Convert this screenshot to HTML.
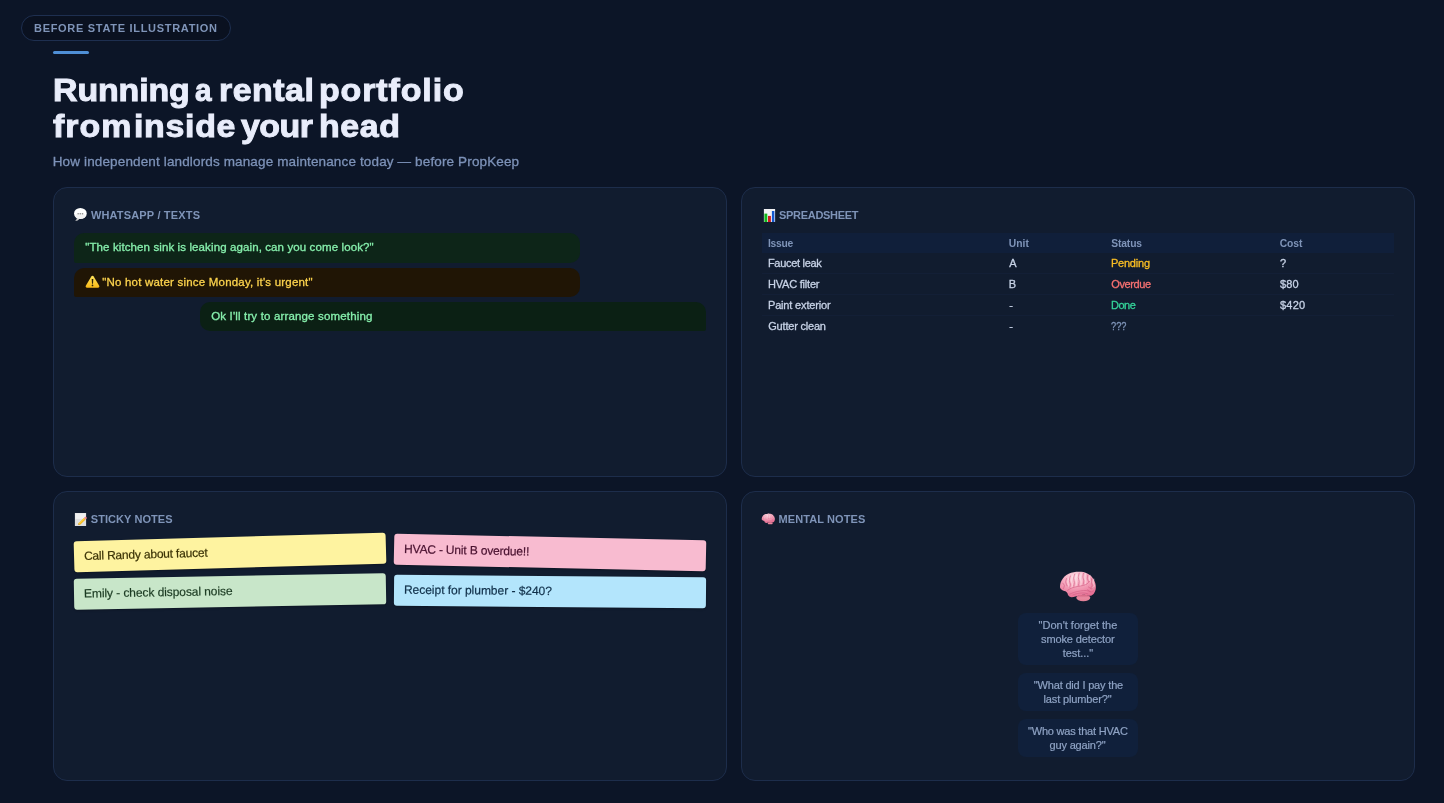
<!DOCTYPE html>
<html lang="en">
<head>
<meta charset="utf-8">
<title>Before state illustration</title>
<style>
*{box-sizing:border-box;margin:0;padding:0}
html,body{width:1444px;height:803px;overflow:hidden}
body{background:#0c1527;font-family:"Liberation Sans",sans-serif;color:#e9edfb;position:relative}
span.t,div.t{position:absolute;white-space:pre;display:block}
.td,.m12,.sub{-webkit-text-stroke:.3px currentColor}
.mn,.note{-webkit-text-stroke:.2px currentColor}
.b11{font-weight:bold;font-size:11px;line-height:11px;color:#7f94b8}
.th{font-weight:bold;font-size:10.3px;line-height:10.3px;color:#7f94b8}
.td{font-size:11px;line-height:11px;color:#c7d2e6}
.mn{font-size:11px;line-height:11px;color:#8fa3c4}
.m12{font-size:11.5px;line-height:11.5px}
.pill{position:absolute;left:21px;top:15px;width:210px;height:26px;border:1px solid #1e2f50;border-radius:13px;background:#0a1120}
.bar{position:absolute;left:53px;top:51px;width:36px;height:3px;border-radius:2px;background:#4f8fd6}
h1{position:absolute;left:0;top:0;font-size:32px;line-height:36px;font-weight:bold;color:#e9edfb;white-space:nowrap;-webkit-text-stroke:1px #e9edfb}
h1 span{position:absolute;display:block;transform:scaleX(1.06);transform-origin:0 0}
.sub{font-size:13.5px;line-height:13.5px;color:#7d92b8}
.card{position:absolute;width:674px;height:290px;border:1px solid #1d2d4b;border-radius:14px;background:#111c2f}
.ico{position:absolute;display:block;overflow:visible}
.msg{position:absolute;width:506px}
.thead{position:absolute;left:20px;top:45px;width:632px;height:19.6px;background:#101f3a}
.sep{position:absolute;left:20px;width:632px;height:1px;background:#14203a;opacity:.75}
.note{position:absolute;width:312px;height:31px;border-radius:3px;font-size:12px;line-height:31px;padding-left:10px;white-space:pre;color:#1f2937;box-shadow:0 1px 2px rgba(0,0,0,.25)}
.mnote{position:absolute;left:276px;width:120px;border-radius:8px;background:#10203b}
</style>
</head>
<body>
<div class="pill"></div>
<span class="t b11" style="left:34px;top:23.1px;letter-spacing:0.7px">BEFORE STATE ILLUSTRATION</span>
<div class="bar"></div>
<h1>
<span style="left:52.7px;top:71.6px;letter-spacing:-.11px">Running</span>
<span style="left:194.6px;top:71.6px;transform:scaleX(.93)">a</span>
<span style="left:219.2px;top:71.6px;letter-spacing:.48px">rental</span>
<span style="left:318.9px;top:71.6px;letter-spacing:.85px">portfolio</span>
<span style="left:53px;top:107.6px;letter-spacing:.97px">from</span>
<span style="left:134.4px;top:107.6px;letter-spacing:.64px">inside</span>
<span style="left:241.1px;top:107.6px;letter-spacing:-.48px">your</span>
<span style="left:318.6px;top:107.6px;letter-spacing:.57px">head</span>
</h1>
<span class="t sub" style="left:52.7px;top:154.7px;letter-spacing:0.14px">How independent landlords manage maintenance today — before PropKeep</span>
<div class="card" style="left:53px;top:187px">
<svg class="ico" style="left:19.15px;top:19px" width="14" height="15" viewBox="0 0 14 15"><path d="M1.900 14c1.100-.6 1.800-1.600 1.900-2.900l2.600.7C5.500 13.200 3.900 14 1.900 14z" fill="#cfcfcf"/><ellipse cx="7.400" cy="6.500" rx="6.350" ry="5.500" fill="#fff"/><ellipse cx="7.400" cy="8.800" rx="5.200" ry="2.900" fill="#e9e9e9" opacity=".6"/><circle cx="5.150" cy="6.700" r=".78" fill="#8c8c8c"/><circle cx="7.300" cy="6.700" r=".78" fill="#8c8c8c"/><circle cx="9.550" cy="6.700" r=".78" fill="#8c8c8c"/></svg>
<span class="t b11" style="left:36.9px;top:22px;letter-spacing:0.17px">WHATSAPP / TEXTS</span>
<div class="msg" style="left:20px;top:45px;height:30px;background:#0d2518;border-radius:10px 10px 10px 2px"></div>
<span class="t m12" style="left:31.26px;top:54.2px;letter-spacing:0.11px;color:#86efac">"The kitchen sink is leaking again, can you come look?"</span>
<div class="msg" style="left:20px;top:80px;height:29px;background:#201505;border-radius:10px 10px 10px 2px"><svg class="ico" style="left:10.6px;top:7.300px" width="15" height="13" viewBox="0 0 15 13"><defs><linearGradient id="wg" x1="0" y1="0" x2="0" y2="1"><stop offset="0" stop-color="#ffe45c"/><stop offset="1" stop-color="#f9b917"/></linearGradient></defs><path d="M7.500.7c.5 0 .9.300 1.200.8l5.500 9.300c.5.900-.1 1.900-1.200 1.900H2c-1.100 0-1.700-1-1.200-1.900L6.300 1.500c.3-.5.700-.8 1.200-.8z" fill="url(#wg)"/><path d="M6.700 4h1.600l-.3 4.700H7z" fill="#2b2208"/><circle cx="7.500" cy="10.400" r=".85" fill="#2b2208"/></svg></div>
<span class="t m12" style="left:48.26px;top:88.9px;letter-spacing:0.2px;color:#fcd34d">"No hot water since Monday, it's urgent"</span>
<div class="msg" style="left:146px;top:114px;height:29px;background:#0b2014;border-radius:10px 10px 2px 10px"></div>
<span class="t m12" style="left:157.16px;top:122.9px;letter-spacing:0.16px;color:#86efac">Ok I'll try to arrange something</span>
</div>
<div class="card" style="left:741px;top:187px">
<svg class="ico" style="left:21px;top:20px" width="12" height="14" viewBox="0 0 12 14"><rect x=".9" y="1" width="11.2" height="13" fill="#f1f1f4"/><rect x="1.4" y="5.6" width="2.9" height="8.4" fill="#12b81c"/><rect x="5" y="7.9" width="2.9" height="6.1" fill="#cf1a1f"/><rect x="8.9" y="3" width="2.5" height="11" fill="#1458d0"/></svg>
<span class="t b11" style="left:36.94px;top:22px;letter-spacing:-0.29px">SPREADSHEET</span>
<div class="thead"></div>
<span class="t th" style="left:25.93px;top:51px;letter-spacing:-0.24px">Issue</span>
<span class="t th" style="left:266.81px;top:51px;letter-spacing:0.01px">Unit</span>
<span class="t th" style="left:369.17px;top:51px;letter-spacing:-0.12px">Status</span>
<span class="t th" style="left:537.76px;top:51px;letter-spacing:-0.07px">Cost</span>
<div class="sep" style="top:85px"></div>
<div class="sep" style="top:106px"></div>
<div class="sep" style="top:127px"></div>
<span class="t td" style="left:25.96px;top:69.9px;letter-spacing:-0.3px">Faucet leak</span>
<span class="t td" style="left:267.3px;top:69.9px">A</span>
<span class="t td" style="left:368.96px;top:69.9px;letter-spacing:-0.22px;color:#fbbf24">Pending</span>
<span class="t td" style="left:537.94px;top:69.9px">?</span>
<span class="t td" style="left:25.96px;top:90.8px;letter-spacing:-0.2px">HVAC filter</span>
<span class="t td" style="left:266.86px;top:90.8px">B</span>
<span class="t td" style="left:369.28px;top:90.8px;letter-spacing:-0.41px;color:#f87171">Overdue</span>
<span class="t td" style="left:537.97px;top:90.8px;letter-spacing:0.18px">$80</span>
<span class="t td" style="left:25.96px;top:111.8px;letter-spacing:-0.16px">Paint exterior</span>
<span class="t td" style="left:267.18px;top:111.8px">-</span>
<span class="t td" style="left:368.96px;top:111.8px;letter-spacing:-0.48px;color:#34d399">Done</span>
<span class="t td" style="left:537.97px;top:111.8px;letter-spacing:0.24px">$420</span>
<span class="t td" style="left:26.26px;top:132.9px;letter-spacing:-0.2px">Gutter clean</span>
<span class="t td" style="left:267.18px;top:132.9px">-</span>
<span class="t td" style="left:368.9px;top:132.9px;color:#7f94b8;transform:scaleX(.84);transform-origin:0 0">???</span>
</div>
<div class="card" style="left:53px;top:491px">
<svg class="ico" style="left:20px;top:20px" width="14" height="14" viewBox="0 0 14 14"><rect x=".9" y="1" width="11.200" height="13" fill="#dedede"/><rect x="1.300" y="1.400" width="10.400" height="5.500" fill="#f0f0f0"/><path d="M4.300 12.900l.3-1.700 5.300-5.300 1.700 1.700-5.400 5.100z" fill="#f5b81c"/><path d="M4.300 12.900l.3-1.700 5.300-5.300.8.800-5.600 5.500z" fill="#fbd24c"/><path d="M4.250 12.950l.3-1.500 1.250 1.150z" fill="#b98d5a"/><path d="M9.900 5.900l.9-.9c.4-.4 1-.4 1.400 0l.3.3c.4.4.4 1 0 1.400l-.9.900z" fill="#f28b8e"/></svg>
<span class="t b11" style="left:36.74px;top:22px;letter-spacing:0.07px">STICKY NOTES</span>
<div class="note" style="left:20px;top:45px;background:#fef3a0;color:#3a3205;transform:rotate(-1.6deg);letter-spacing:-0.2px">Call Randy about faucet</div>
<div class="note" style="left:340px;top:45px;background:#f8bbd0;color:#4a1230;transform:rotate(1.2deg);letter-spacing:-0.17px">HVAC - Unit B overdue!!</div>
<div class="note" style="left:20px;top:84px;background:#c8e6c9;color:#1b3a22;transform:rotate(-1deg);letter-spacing:-0.08px">Emily - check disposal noise</div>
<div class="note" style="left:340px;top:84px;background:#b3e5fc;color:#10304a;transform:rotate(0.5deg);letter-spacing:-0.03px">Receipt for plumber - $240?</div>
</div>
<div class="card" style="left:741px;top:491px">
<svg class="ico" style="left:18.8px;top:21.1px" width="14.6" height="12.4" viewBox="0 0 40 34">
<defs><radialGradient id="bg14" cx="42%" cy="18%" r="85%"><stop offset="0" stop-color="#fddbe3"/><stop offset=".4" stop-color="#f7adc2"/><stop offset="1" stop-color="#e66d92"/></radialGradient>
<linearGradient id="cb14" x1="0" y1="0" x2="0" y2="1"><stop offset="0" stop-color="#cf5d7c"/><stop offset=".5" stop-color="#ea8aa2"/><stop offset="1" stop-color="#e27f95"/></linearGradient></defs>
<ellipse cx="25.300" cy="27.800" rx="7" ry="3.400" fill="url(#cb14)"/>
<path d="M2.0 16.9C2.0 15.9 2.2 13.9 2.7 12.5C3.2 11.1 3.9 9.7 4.9 8.4C5.8 7.2 7.1 5.9 8.4 5.0C9.8 4.0 11.5 3.3 13.1 2.8C14.7 2.3 16.6 2.0 18.3 1.8C20.0 1.6 21.7 1.6 23.2 1.8C24.8 1.9 26.2 2.2 27.6 2.7C29.0 3.2 30.5 4.0 31.7 4.9C32.9 5.7 33.9 6.7 34.7 7.9C35.6 9.0 36.3 10.4 36.8 11.7C37.3 13.0 37.7 14.5 37.8 15.8C37.9 17.1 37.9 18.4 37.6 19.7C37.3 20.9 36.8 22.3 36.1 23.2C35.5 24.2 34.5 25.0 33.6 25.4C32.8 25.8 32.2 25.9 31.2 25.8C30.2 25.7 28.8 25.0 27.6 24.9C26.4 24.7 25.2 24.7 23.8 24.9C22.4 25.0 20.8 25.6 19.4 26.0C18.0 26.3 16.7 26.9 15.6 27.1C14.4 27.2 13.4 27.2 12.5 26.9C11.7 26.7 10.9 26.1 10.4 25.4C9.8 24.7 9.7 23.6 9.3 22.9C8.8 22.3 8.6 21.8 7.9 21.4C7.2 21.0 5.7 20.9 4.9 20.5C4.0 20.1 3.3 19.4 2.8 18.8C2.4 18.2 2.1 18.0 2.0 16.9z" fill="url(#bg14)"/>
<path d="M10.6 9.0C10.5 9.6 9.7 11.3 9.8 12.5C9.9 13.8 10.9 15.7 11.2 16.4 M14.5 6.4C14.3 7.1 13.4 9.4 13.4 10.8C13.4 12.2 14.4 13.5 14.5 14.6C14.5 15.7 13.9 17.0 13.8 17.5 M18.8 4.5C18.7 5.2 17.8 7.2 17.8 8.6C17.7 10.0 18.5 11.6 18.5 13.0C18.5 14.3 17.9 15.9 17.8 16.5 M23.2 3.7C23.1 4.4 22.4 6.7 22.4 8.0C22.3 9.4 23.1 10.6 23.2 11.9C23.2 13.2 22.7 15.1 22.6 15.7 M27.6 3.7C27.5 4.3 26.9 6.2 27.0 7.5C27.0 8.8 27.8 10.1 27.8 11.3C27.9 12.5 27.4 14.2 27.3 14.7 M32.0 5.3C31.9 5.8 31.3 7.5 31.4 8.6C31.5 9.7 32.4 11.4 32.5 12.0 M35.8 9.1C35.7 9.7 35.2 11.3 35.2 12.4C35.3 13.5 36.4 14.7 36.3 15.7C36.2 16.7 35.0 18.1 34.7 18.6" fill="none" stroke="#fee9ee" stroke-width="1.300" stroke-linecap="round" opacity=".5"/>
<path d="M9.6 20.3C10.4 19.9 12.3 18.5 13.9 17.9C15.5 17.3 17.6 16.9 19.4 16.5C21.2 16.1 23.3 16.0 24.9 15.5C26.5 15.1 27.9 14.6 29.0 13.9C30.1 13.2 31.1 11.8 31.6 11.3 M11.6 24.2C12.5 23.8 14.8 22.8 16.7 22.2C18.5 21.7 20.8 21.1 22.7 20.9C24.6 20.6 26.5 20.4 28.2 20.5C29.8 20.7 31.9 21.6 32.7 21.8 M8.5 8.6C8.4 9.2 7.6 10.9 7.7 12.1C7.8 13.3 8.9 15.3 9.1 15.9 M12.4 6.0C12.2 6.7 11.3 9.0 11.3 10.3C11.3 11.7 12.3 13.1 12.4 14.2C12.5 15.3 11.8 16.6 11.7 17.0 M16.8 4.1C16.6 4.8 15.7 6.7 15.7 8.2C15.6 9.6 16.4 11.2 16.4 12.5C16.4 13.9 15.8 15.5 15.7 16.1 M21.2 3.2C21.0 3.9 20.3 6.2 20.3 7.6C20.3 9.0 21.1 10.2 21.1 11.4C21.1 12.7 20.6 14.6 20.5 15.3 M25.5 3.2C25.4 3.9 24.8 5.8 24.9 7.1C24.9 8.3 25.7 9.7 25.8 10.9C25.8 12.1 25.3 13.7 25.2 14.3 M29.9 4.9C29.8 5.4 29.2 7.0 29.3 8.2C29.4 9.3 30.3 11.0 30.5 11.5 M33.8 8.7C33.7 9.2 33.1 10.9 33.2 12.0C33.2 13.1 34.3 14.3 34.2 15.3C34.2 16.3 32.9 17.6 32.7 18.1 M30.4 16.9C30.9 17.2 32.7 18.6 33.6 18.7C34.6 18.8 35.6 17.7 35.9 17.5 M29.7 19.8C30.2 20.1 32.0 21.8 33.0 22.0C33.9 22.1 35.0 21.0 35.4 20.8 M4.7 13.1C5.0 13.5 6.3 14.9 6.4 15.8C6.4 16.8 5.4 18.2 5.2 18.7 M15.0 24.9C15.7 24.6 17.8 23.8 19.4 23.5C21.0 23.2 23.1 22.9 24.9 22.9C26.6 23.0 29.0 23.6 29.8 23.8" fill="none" stroke="#d45f85" stroke-width=".85" stroke-linecap="round" opacity=".8"/>
</svg>
<span class="t b11" style="left:36.6px;top:22px;letter-spacing:0.09px">MENTAL NOTES</span>
<svg class="ico" style="left:316px;top:78px" width="40" height="34" viewBox="0 0 40 34">
<defs><radialGradient id="bg40" cx="42%" cy="18%" r="85%"><stop offset="0" stop-color="#fddbe3"/><stop offset=".4" stop-color="#f7adc2"/><stop offset="1" stop-color="#e66d92"/></radialGradient>
<linearGradient id="cb40" x1="0" y1="0" x2="0" y2="1"><stop offset="0" stop-color="#cf5d7c"/><stop offset=".5" stop-color="#ea8aa2"/><stop offset="1" stop-color="#e27f95"/></linearGradient></defs>
<ellipse cx="25.300" cy="27.800" rx="7" ry="3.400" fill="url(#cb40)"/>
<path d="M2.0 16.9C2.0 15.9 2.2 13.9 2.7 12.5C3.2 11.1 3.9 9.7 4.9 8.4C5.8 7.2 7.1 5.9 8.4 5.0C9.8 4.0 11.5 3.3 13.1 2.8C14.7 2.3 16.6 2.0 18.3 1.8C20.0 1.6 21.7 1.6 23.2 1.8C24.8 1.9 26.2 2.2 27.6 2.7C29.0 3.2 30.5 4.0 31.7 4.9C32.9 5.7 33.9 6.7 34.7 7.9C35.6 9.0 36.3 10.4 36.8 11.7C37.3 13.0 37.7 14.5 37.8 15.8C37.9 17.1 37.9 18.4 37.6 19.7C37.3 20.9 36.8 22.3 36.1 23.2C35.5 24.2 34.5 25.0 33.6 25.4C32.8 25.8 32.2 25.9 31.2 25.8C30.2 25.7 28.8 25.0 27.6 24.9C26.4 24.7 25.2 24.7 23.8 24.9C22.4 25.0 20.8 25.6 19.4 26.0C18.0 26.3 16.7 26.9 15.6 27.1C14.4 27.2 13.4 27.2 12.5 26.9C11.7 26.7 10.9 26.1 10.4 25.4C9.8 24.7 9.7 23.6 9.3 22.9C8.8 22.3 8.6 21.8 7.9 21.4C7.2 21.0 5.7 20.9 4.9 20.5C4.0 20.1 3.3 19.4 2.8 18.8C2.4 18.2 2.1 18.0 2.0 16.9z" fill="url(#bg40)"/>
<path d="M10.6 9.0C10.5 9.6 9.7 11.3 9.8 12.5C9.9 13.8 10.9 15.7 11.2 16.4 M14.5 6.4C14.3 7.1 13.4 9.4 13.4 10.8C13.4 12.2 14.4 13.5 14.5 14.6C14.5 15.7 13.9 17.0 13.8 17.5 M18.8 4.5C18.7 5.2 17.8 7.2 17.8 8.6C17.7 10.0 18.5 11.6 18.5 13.0C18.5 14.3 17.9 15.9 17.8 16.5 M23.2 3.7C23.1 4.4 22.4 6.7 22.4 8.0C22.3 9.4 23.1 10.6 23.2 11.9C23.2 13.2 22.7 15.1 22.6 15.7 M27.6 3.7C27.5 4.3 26.9 6.2 27.0 7.5C27.0 8.8 27.8 10.1 27.8 11.3C27.9 12.5 27.4 14.2 27.3 14.7 M32.0 5.3C31.9 5.8 31.3 7.5 31.4 8.6C31.5 9.7 32.4 11.4 32.5 12.0 M35.8 9.1C35.7 9.7 35.2 11.3 35.2 12.4C35.3 13.5 36.4 14.7 36.3 15.7C36.2 16.7 35.0 18.1 34.7 18.6" fill="none" stroke="#fee9ee" stroke-width="1.300" stroke-linecap="round" opacity=".5"/>
<path d="M9.6 20.3C10.4 19.9 12.3 18.5 13.9 17.9C15.5 17.3 17.6 16.9 19.4 16.5C21.2 16.1 23.3 16.0 24.9 15.5C26.5 15.1 27.9 14.6 29.0 13.9C30.1 13.2 31.1 11.8 31.6 11.3 M11.6 24.2C12.5 23.8 14.8 22.8 16.7 22.2C18.5 21.7 20.8 21.1 22.7 20.9C24.6 20.6 26.5 20.4 28.2 20.5C29.8 20.7 31.9 21.6 32.7 21.8 M8.5 8.6C8.4 9.2 7.6 10.9 7.7 12.1C7.8 13.3 8.9 15.3 9.1 15.9 M12.4 6.0C12.2 6.7 11.3 9.0 11.3 10.3C11.3 11.7 12.3 13.1 12.4 14.2C12.5 15.3 11.8 16.6 11.7 17.0 M16.8 4.1C16.6 4.8 15.7 6.7 15.7 8.2C15.6 9.6 16.4 11.2 16.4 12.5C16.4 13.9 15.8 15.5 15.7 16.1 M21.2 3.2C21.0 3.9 20.3 6.2 20.3 7.6C20.3 9.0 21.1 10.2 21.1 11.4C21.1 12.7 20.6 14.6 20.5 15.3 M25.5 3.2C25.4 3.9 24.8 5.8 24.9 7.1C24.9 8.3 25.7 9.7 25.8 10.9C25.8 12.1 25.3 13.7 25.2 14.3 M29.9 4.9C29.8 5.4 29.2 7.0 29.3 8.2C29.4 9.3 30.3 11.0 30.5 11.5 M33.8 8.7C33.7 9.2 33.1 10.9 33.2 12.0C33.2 13.1 34.3 14.3 34.2 15.3C34.2 16.3 32.9 17.6 32.7 18.1 M30.4 16.9C30.9 17.2 32.7 18.6 33.6 18.7C34.6 18.8 35.6 17.7 35.9 17.5 M29.7 19.8C30.2 20.1 32.0 21.8 33.0 22.0C33.9 22.1 35.0 21.0 35.4 20.8 M4.7 13.1C5.0 13.5 6.3 14.9 6.4 15.8C6.4 16.8 5.4 18.2 5.2 18.7 M15.0 24.9C15.7 24.6 17.8 23.8 19.4 23.5C21.0 23.2 23.1 22.9 24.9 22.9C26.6 23.0 29.0 23.6 29.8 23.8" fill="none" stroke="#d45f85" stroke-width=".85" stroke-linecap="round" opacity=".8"/>
</svg>
<div class="mnote" style="top:121px;height:52px"></div>
<div class="mnote" style="top:181px;height:38px"></div>
<div class="mnote" style="top:227px;height:38px"></div>
<span class="t mn" style="left:296.57px;top:127.8px">"Don't forget the</span>
<span class="t mn" style="left:299.07px;top:141.7px;letter-spacing:-0.12px">smoke detector</span>
<span class="t mn" style="left:320.7px;top:155.5px;letter-spacing:-0.04px">test..."</span>
<span class="t mn" style="left:291.87px;top:187.9px;letter-spacing:-0.18px">"What did I pay the</span>
<span class="t mn" style="left:301.58px;top:202px;letter-spacing:-0.15px">last plumber?"</span>
<span class="t mn" style="left:286.07px;top:233.7px;letter-spacing:-0.21px">"Who was that HVAC</span>
<span class="t mn" style="left:307.5px;top:247.8px;letter-spacing:-0.16px">guy again?"</span>
</div>
</body>
</html>
